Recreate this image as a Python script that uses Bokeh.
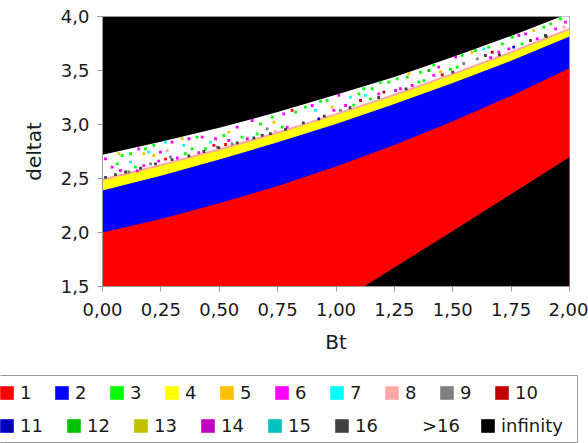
from bokeh.plotting import figure
from bokeh.models import Legend, LegendItem, FixedTicker, ColumnDataSource, BoxAnnotation
from bokeh.embed import file_html
from bokeh.resources import INLINE

# ---- legend levels ----
level_labels = ["1", "2", "3", "4", "5", "6", "7", "8", "9", "10",
                "11", "12", "13", "14", "15", "16", ">16", "infinity"]
level_colors = ["#FF0000", "#0000FF", "#00FF00", "#FFFF00", "#FFC000", "#FF00FF",
                "#00FFFF", "#FFA8A8", "#808080", "#C00000", "#0000C0", "#00C000",
                "#C0C000", "#C000C0", "#00C0C0", "#404040", "#FFFFFF", "#000000"]

# ---- axes ----
x_ticks = [0.0, 0.25, 0.5, 0.75, 1.0, 1.25, 1.5, 1.75, 2.0]
x_tick_labels = ["0,00", "0,25", "0,50", "0,75", "1,00", "1,25", "1,50", "1,75", "2,00"]
y_ticks = [1.5, 2.0, 2.5, 3.0, 3.5, 4.0]
y_tick_labels = ["1,5", "2,0", "2,5", "3,0", "3,5", "4,0"]

# ---- band boundaries (deltat) sampled along Bt ----
bt = [0.0, 0.25, 0.5, 0.75, 1.0, 1.25, 1.5, 1.75, 2.0]
red_top = [2.00, 2.125, 2.27, 2.43, 2.61, 2.81, 3.03, 3.265, 3.52]      # level 1 / 2
blue_top = [2.39, 2.525, 2.675, 2.835, 3.005, 3.19, 3.385, 3.59, 3.815]  # level 2 / 4
yellow_top = [2.48, 2.615, 2.76, 2.915, 3.085, 3.265, 3.458, 3.66, 3.875]  # level 4 / 8
pink_top = [2.50, 2.635, 2.78, 2.935, 3.105, 3.285, 3.478, 3.68, 3.895]  # level 8 / >16
white_top = [2.72, 2.84, 2.97, 3.115, 3.275, 3.44, 3.625, 3.82, 4.03]    # >16 / infinity

# lower-right "infinity" region
inf_bt = [1.12, 1.25, 1.5, 1.75, 2.0]
inf_top = [1.5, 1.675, 2.015, 2.355, 2.70]

# ---- scattered cells inside the >16 band: (Bt, deltat, level) ----
dots = [
    (0.013, 2.682, 6), (0.041, 2.605, 6), (0.070, 2.729, 5), (0.063, 2.636, 3),
    (0.077, 2.574, 6), (0.084, 2.713, 3), (0.120, 2.729, 3), (0.120, 2.651, 7),
    (0.113, 2.560, 9), (0.141, 2.605, 3), (0.149, 2.570, 6), (0.155, 2.775, 6),
    (0.177, 2.729, 5), (0.184, 2.775, 3), (0.177, 2.620, 6), (0.198, 2.744, 7),
    (0.206, 2.636, 9), (0.220, 2.806, 3), (0.220, 2.713, 5), (0.241, 2.660, 6),
    (0.248, 2.744, 6), (0.270, 2.836, 7), (0.270, 2.680, 1), (0.277, 2.759, 8),
    (0.291, 2.697, 9), (0.298, 2.836, 6), (0.320, 2.690, 6), (0.348, 2.806, 7),
    (0.341, 2.868, 5), (0.355, 2.729, 3), (0.370, 2.868, 6), (0.384, 2.775, 3),
    (0.405, 2.883, 3), (0.412, 2.740, 6), (0.427, 2.883, 6), (0.441, 2.775, 3),
    (0.462, 2.836, 7), (0.477, 2.806, 1), (0.484, 2.868, 6), (0.491, 2.790, 9),
    (0.520, 2.898, 3), (0.527, 2.815, 1), (0.541, 2.852, 6), (0.541, 2.929, 5),
    (0.555, 2.820, 9), (0.577, 2.975, 6), (0.598, 2.883, 3), (0.620, 2.868, 6),
    (0.641, 3.037, 6), (0.662, 2.914, 3), (0.677, 3.006, 3), (0.684, 2.900, 16),
    (0.705, 2.960, 9), (0.727, 3.068, 3), (0.734, 3.021, 5), (0.741, 2.935, 8),
    (0.770, 2.975, 3), (0.776, 3.099, 6), (0.791, 2.975, 6), (0.812, 3.130, 1),
    (0.827, 3.114, 3),
    (0.869, 3.160, 3), (0.898, 3.176, 6), (0.912, 3.130, 7), (0.926, 3.053, 2),
    (0.934, 3.215, 3), (0.962, 3.222, 3), (0.984, 3.160, 5), (0.991, 3.130, 6),
    (1.012, 3.269, 6), (1.019, 3.130, 9), (1.041, 3.176, 6), (1.062, 3.253, 7),
    (1.076, 3.180, 3), (1.098, 3.284, 3), (1.105, 3.222, 10), (1.119, 3.331, 3),
    (1.126, 3.269, 7), (1.148, 3.235, 3), (1.155, 3.331, 3), (1.183, 3.284, 6),
    (1.183, 3.250, 16), (1.190, 3.390, 3), (1.205, 3.300, 10), (1.226, 3.392, 3),
    (1.255, 3.315, 6), (1.262, 3.423, 3), (1.276, 3.331, 6), (1.305, 3.438, 3),
    (1.312, 3.470, 5), (1.326, 3.361, 6), (1.355, 3.392, 3), (1.362, 3.484, 3),
    (1.376, 3.407, 3), (1.398, 3.500, 12), (1.419, 3.550, 3), (1.419, 3.454, 6),
    (1.440, 3.531, 6),
    (1.448, 3.490, 5), (1.455, 3.460, 10), (1.490, 3.510, 3), (1.512, 3.623, 6),
    (1.519, 3.530, 3), (1.540, 3.640, 3), (1.547, 3.565, 9), (1.583, 3.669, 5),
    (1.597, 3.685, 3), (1.605, 3.608, 9), (1.633, 3.701, 7), (1.640, 3.639, 16),
    (1.654, 3.716, 3), (1.662, 3.620, 6), (1.669, 3.669, 10), (1.697, 3.669, 6),
    (1.712, 3.747, 3), (1.740, 3.701, 6), (1.755, 3.809, 3), (1.761, 3.716, 2),
    (1.783, 3.824, 6), (1.797, 3.747, 3), (1.812, 3.840, 6), (1.833, 3.778, 16),
    (1.847, 3.870, 5), (1.862, 3.793, 6), (1.890, 3.901, 3), (1.897, 3.824, 16),
    (1.919, 3.932, 3), (1.940, 3.886, 6), (1.961, 3.979, 3), (1.976, 3.901, 8),
    (1.983, 3.947, 6),
    # dark cells along the thin level-8 seam
    (0.013, 2.510, 16), (0.056, 2.535, 16), (0.099, 2.560, 16), (0.163, 2.595, 16),
    (0.227, 2.635, 16), (0.298, 2.675, 16), (0.370, 2.710, 16), (0.434, 2.750, 16),
    (0.498, 2.785, 16), (0.577, 2.830, 16), (0.648, 2.875, 16), (0.719, 2.915, 16),
    (0.784, 2.955, 16), (0.860, 3.015, 16), (0.950, 3.078, 16), (1.060, 3.155, 16),
    (1.300, 3.330, 16), (1.500, 3.485, 16), (1.700, 3.645, 16), (1.900, 3.815, 16),
]

x_lo, x_hi = x_ticks[0], x_ticks[-1]
y_lo, y_hi = y_ticks[0], y_ticks[-1]
below = y_lo - 0.1

p = figure(width=588, height=374, x_range=(x_lo, x_hi), y_range=(y_lo, y_hi),
           output_backend="svg", toolbar_location=None,
           min_border_left=102, min_border_right=19, min_border_top=16, min_border_bottom=88,
           background_fill_color="#000000", border_fill_color="#FFFFFF")

# bands (painted top-down so shared edges never show the black background)
p.varea(x=bt, y1=below, y2=white_top, fill_color=level_colors[16])
p.varea(x=bt, y1=below, y2=pink_top, fill_color=level_colors[7])
p.varea(x=bt, y1=below, y2=yellow_top, fill_color=level_colors[3])
p.varea(x=bt, y1=below, y2=blue_top, fill_color=level_colors[1])
p.varea(x=bt, y1=below, y2=red_top, fill_color=level_colors[0])
p.varea(x=inf_bt, y1=below, y2=inf_top, fill_color=level_colors[17])

src = ColumnDataSource(dict(
    x=[d[0] for d in dots],
    y=[d[1] for d in dots],
    c=[level_colors[d[2] - 1] for d in dots],
))
p.scatter("x", "y", source=src, marker="square", size=2.8, fill_color="c", line_color=None)

# axes
axis_col = "#999999"
text_col = "#1a1a1a"
p.xaxis.ticker = FixedTicker(ticks=x_ticks)
p.xaxis.major_label_overrides = dict(zip(x_ticks, x_tick_labels))
p.yaxis.ticker = FixedTicker(ticks=y_ticks)
p.yaxis.major_label_overrides = dict(zip(y_ticks, y_tick_labels))
p.xaxis.axis_label = "Bt"
p.yaxis.axis_label = "deltat"
for ax in (p.xaxis, p.yaxis):
    ax.axis_line_color = axis_col
    ax.major_tick_line_color = axis_col
    ax.major_tick_out = 5
    ax.major_tick_in = 0
    ax.minor_tick_out = 0
    ax.minor_tick_in = 0
    ax.major_label_text_font = "DejaVu Sans"
    ax.major_label_text_font_size = "18px"
    ax.major_label_text_color = text_col
    ax.axis_label_text_font = "DejaVu Sans"
    ax.axis_label_text_font_size = "20px"
    ax.axis_label_text_font_style = "normal"
    ax.axis_label_text_color = text_col
p.xaxis.major_label_standoff = 11
p.yaxis.major_label_standoff = 8
p.xaxis.axis_label_standoff = 11
p.yaxis.axis_label_standoff = 12
p.grid.visible = False
p.outline_line_color = axis_col

# ---- legend panel (separate root so its frame covers the whole strip) ----
q = figure(width=588, height=69, x_range=(0, 1), y_range=(0, 1),
           output_backend="svg", toolbar_location=None,
           x_axis_type=None, y_axis_type=None,
           min_border_left=0, min_border_right=0, min_border_top=0, min_border_bottom=0,
           background_fill_color="#FFFFFF", border_fill_color="#FFFFFF", outline_line_color=None)
q.grid.visible = False

# legend keys: one off-view quad per level (only its colour is shown, in the legend)
sw = {}
for lab, col in zip(level_labels, level_colors):
    sw[lab] = q.quad(left=[2], right=[3], top=[3], bottom=[2], fill_color=col, line_color=None)

common = dict(orientation="horizontal", glyph_width=17, glyph_height=17, label_standoff=5,
              label_text_font="DejaVu Sans", label_text_font_size="18px",
              label_text_color=text_col, label_height=17, padding=0, margin=0,
              border_line_color=None, background_fill_alpha=0)

leg1 = Legend(items=[LegendItem(label=l, renderers=[sw[l]]) for l in level_labels[:10]],
              location=(-2, 40), spacing=5, label_width=28, **common)
leg2 = Legend(items=[LegendItem(label=l, renderers=[sw[l]]) for l in level_labels[10:17]],
              location=(-2, 7), spacing=0, label_width=45, **common)
leg3 = Legend(items=[LegendItem(label=l, renderers=[sw[l]]) for l in level_labels[17:]],
              location=(479, 7), spacing=0, label_width=45, **common)
for lg in (leg1, leg2, leg3):
    q.add_layout(lg, "center")

box = BoxAnnotation(left=-10, right=577, top=68, bottom=1,
                    left_units="screen", right_units="screen", top_units="screen", bottom_units="screen",
                    fill_color=None, fill_alpha=0, line_color=axis_col, line_alpha=1, line_width=1,
                    line_dash="solid")
q.add_layout(box)

open("out.html", "w").write(file_html((p, q), INLINE))
